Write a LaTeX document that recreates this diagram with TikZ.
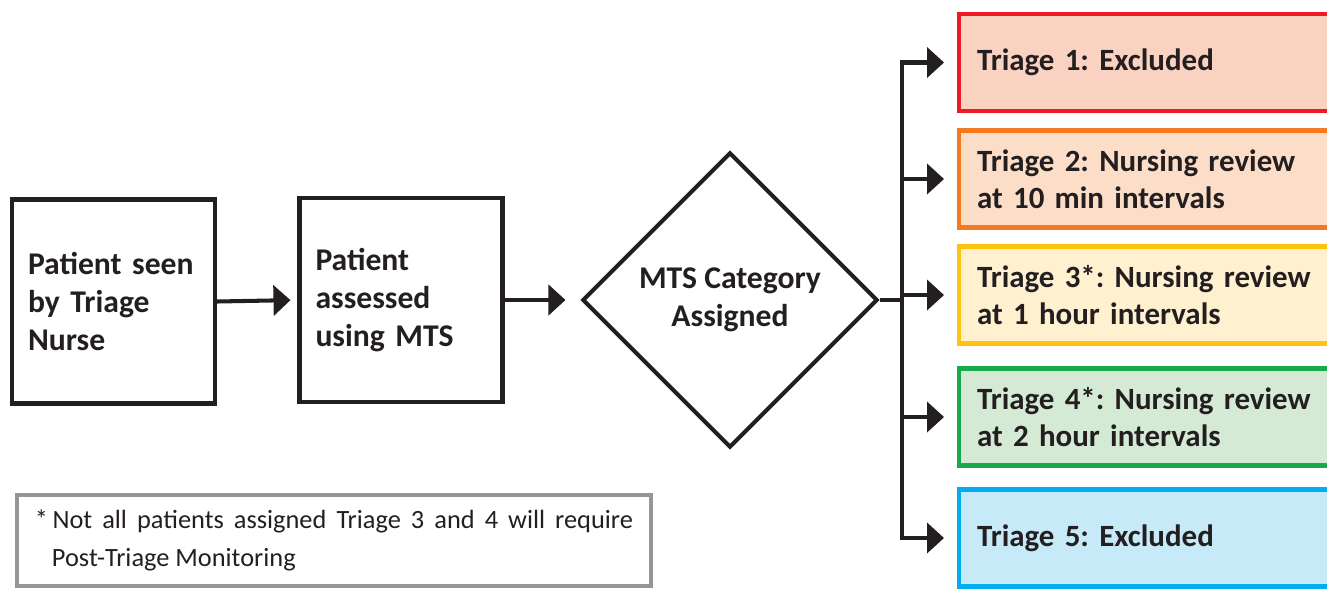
\documentclass[tikz,border=0pt]{standalone}
\usepackage{fontspec}
\setmainfont{Carlito}
\frenchspacing
\usetikzlibrary{%
  arrows.meta,%
  shapes,%
  shapes.geometric,% wg. diamond
  positioning,% wg. " of "
  calc
}
\definecolor{ink}{RGB}{35,31,32}
\definecolor{redline}{RGB}{237,28,36}
\definecolor{redfill}{RGB}{250,210,193}
\definecolor{orangeline}{RGB}{244,121,32}
\definecolor{orangefill}{RGB}{252,222,200}
\definecolor{yellowline}{RGB}{255,194,14}
\definecolor{yellowfill}{RGB}{255,240,207}
\definecolor{greenline}{RGB}{22,170,74}
\definecolor{greenfill}{RGB}{213,234,213}
\definecolor{blueline}{RGB}{0,174,239}
\definecolor{bluefill}{RGB}{199,234,248}
\definecolor{noteline}{RGB}{147,149,152}

\begin{document}
\begin{tikzpicture}
[font=\fontsize{18}{21.5}\selectfont\bfseries\frenchspacing, text=ink, draw=ink, line width=2.3pt,
stepbox/.style={rectangle, draw=ink, minimum width=4.06cm, minimum height=4.08cm,
  text width=3.42cm, inner xsep=0.32cm, align=left},
decision/.style={diamond, draw=ink, minimum width=5.9cm, minimum height=5.9cm,
  inner sep=0pt, align=center},
triage/.style={rectangle, draw, minimum height=1.94cm, text width=7cm,
  inner xsep=0.36cm, align=left, font=\fontsize{17.6}{20.8}\selectfont\bfseries\frenchspacing},
note/.style={rectangle, draw=noteline, minimum width=12.68cm, minimum height=1.82cm,
  text width=11.96cm, align=justify, font=\fontsize{15}{21.5}\selectfont\frenchspacing},
arr/.style={-{Triangle[length=0.34cm,width=0.6cm]}, draw=ink, line width=2.3pt}
]
\useasboundingbox (0,0) rectangle (26.54,-11.8);

% left part
\node[stepbox] (seen) at (2.27,-6.03) {Patient seen\\by Triage\\Nurse};
\node[stepbox] (assessed) at (8.02,-6.0) {Patient\\assessed\\using MTS};
\node[decision] (mts) at (14.6,-6.0) {MTS Category\\Assigned};

\draw[arr, shorten >=0.14cm] (seen.east) -- (assessed.west);
\draw[arr, shorten >=0.3cm] (assessed.east) -- (mts.west);

% triage categories
\node[triage, draw=redline, fill=redfill, anchor=west] (t1) at (19.14,-1.25) {Triage 1: Excluded};
\node[triage, draw=orangeline, fill=orangefill, anchor=west] (t2) at (19.14,-3.58) {Triage 2: Nursing review\\at 10 min intervals};
\node[triage, draw=yellowline, fill=yellowfill, anchor=west] (t3) at (19.14,-5.9) {Triage 3*: Nursing review\\at 1 hour intervals};
\node[triage, draw=greenline, fill=greenfill, anchor=west] (t4) at (19.14,-8.34) {Triage 4*: Nursing review\\at 2 hour intervals};
\node[triage, draw=blueline, fill=bluefill, anchor=west] (t5) at (19.14,-10.76) {Triage 5: Excluded};

\coordinate (split) at (18.04,-6.0);
\draw (mts.east) -- (split);
\draw ($(split |- t1.west)+(0,0.02)$) -- (split |- t5.west);
\foreach \i in {1,...,5}
  \draw[arr, shorten >=0.26cm] ($(split |- t\i.west)+(-0.04,0)$) -- (t\i.west);

% footnote
\node[note] (footnote) at (6.68,-10.81)
  {\hangindent=0.34cm\hangafter=1 *\,Not all patients assigned Triage 3 and 4 will require\linebreak Post-Triage Monitoring\par};
\end{tikzpicture}
\end{document}
